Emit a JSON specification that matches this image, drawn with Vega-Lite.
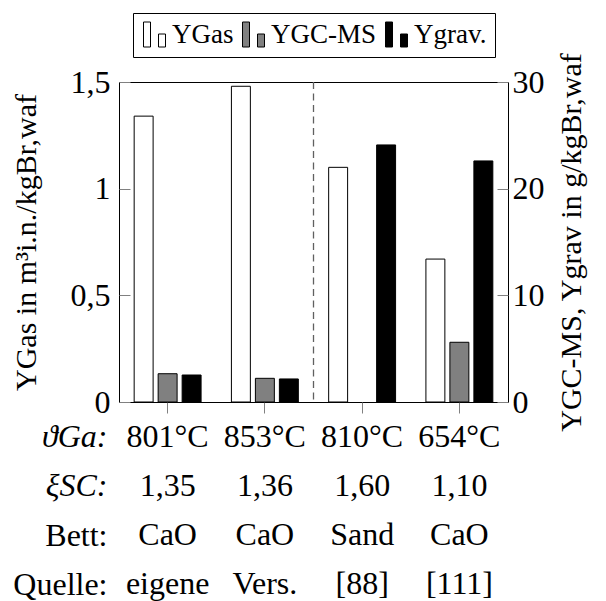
{
  "$schema": "https://vega.github.io/schema/vega-lite/v6.json",
  "padding": {"left": 10, "top": 12, "right": 5, "bottom": 0},
  "background": "white",
  "config": {
    "font": "Liberation Serif, DejaVu Serif, serif",
    "axis": {"labelFont": "Liberation Serif, DejaVu Serif, serif", "titleFont": "Liberation Serif, DejaVu Serif, serif", "labelColor": "black", "titleColor": "black", "titleFontWeight": "normal", "grid": false},
    "legend": {"labelFont": "Liberation Serif, DejaVu Serif, serif"},
    "text": {"font": "Liberation Serif, DejaVu Serif, serif"}
  },
  "spacing": 10,
  "bounds": "flush",
  "vconcat": [
    {
      "width": 389,
      "height": 320,
      "view": {"stroke": "black", "strokeWidth": 1},
      "data": {"values": [
        {"Versuch": "801°C", "Reihe": "YGas", "Wert": 1.34},
        {"Versuch": "801°C", "Reihe": "YGC-MS", "Wert": 2.65},
        {"Versuch": "801°C", "Reihe": "Ygrav.", "Wert": 2.53},
        {"Versuch": "853°C", "Reihe": "YGas", "Wert": 1.48},
        {"Versuch": "853°C", "Reihe": "YGC-MS", "Wert": 2.22},
        {"Versuch": "853°C", "Reihe": "Ygrav.", "Wert": 2.16},
        {"Versuch": "810°C", "Reihe": "YGas", "Wert": 1.10},
        {"Versuch": "810°C", "Reihe": "Ygrav.", "Wert": 24.1},
        {"Versuch": "654°C", "Reihe": "YGas", "Wert": 0.67},
        {"Versuch": "654°C", "Reihe": "YGC-MS", "Wert": 5.6},
        {"Versuch": "654°C", "Reihe": "Ygrav.", "Wert": 22.6}
      ]},
      "encoding": {
        "x": {
          "field": "Versuch", "type": "nominal",
          "sort": ["801°C", "853°C", "810°C", "654°C"],
          "scale": {"paddingInner": 0, "paddingOuter": 0},
          "axis": {"labels": false, "domain": false, "ticks": true, "tickSize": 11, "tickColor": "#808080", "title": null}
        }
      },
      "layer": [
        {
          "transform": [{"filter": "datum.Reihe == 'YGas'"}],
          "mark": {"type": "bar", "stroke": "black", "strokeWidth": 1},
          "encoding": {
            "xOffset": {"field": "Reihe", "type": "nominal", "scale": {"domain": ["YGas", "YGC-MS", "Ygrav."], "paddingInner": 0.21, "paddingOuter": 0.632}},
            "y": {
              "field": "Wert", "type": "quantitative",
              "scale": {"domain": [0, 1.5], "nice": false},
              "axis": {
                "orient": "left", "values": [0, 0.5, 1, 1.5],
                "labelExpr": "replace(toString(datum.value), '.', ',')",
                "labelFontSize": 32, "tickSize": -11, "labelPadding": 20, "tickColor": "#808080", "domain": false,
                "title": "YGas in m³i.n./kgBr,waf", "titleFontSize": 30, "titlePadding": 29
              }
            },
            "fill": {
              "field": "Reihe", "type": "nominal",
              "scale": {"domain": ["YGas", "YGC-MS", "Ygrav."], "range": ["white", "#808080", "black"]},
              "legend": {
                "orient": "none", "legendX": 14, "legendY": -69, "direction": "horizontal", "title": null,
                "strokeColor": "black", "padding": 8,
                "symbolType": "M-0.88,-1H-0.32V1H-0.88Z M0.32,-0.04H0.88V1H0.32Z",
                "symbolSize": 625, "symbolStrokeColor": "black", "symbolStrokeWidth": 1,
                "labelFontSize": 27, "columnPadding": 6, "symbolOffset": 0
              }
            }
          }
        },
        {
          "transform": [{"filter": "datum.Reihe != 'YGas'"}],
          "mark": {"type": "bar", "stroke": "black", "strokeWidth": 1},
          "encoding": {
            "xOffset": {"field": "Reihe", "type": "nominal", "scale": {"domain": ["YGas", "YGC-MS", "Ygrav."], "paddingInner": 0.21, "paddingOuter": 0.632}},
            "y": {
              "field": "Wert", "type": "quantitative",
              "scale": {"domain": [0, 30], "nice": false},
              "axis": {
                "orient": "right", "values": [0, 10, 20, 30],
                "labelFontSize": 32, "tickSize": -11, "labelPadding": 15, "tickColor": "#808080", "domain": false,
                "title": "YGC-MS, Ygrav in g/kgBr,waf", "titleFontSize": 30, "titlePadding": 12,
                "titleAngle": 270, "titleBaseline": "top"
              }
            },
            "fill": {
              "field": "Reihe", "type": "nominal",
              "scale": {"domain": ["YGas", "YGC-MS", "Ygrav."], "range": ["white", "#808080", "black"]}
            }
          }
        },
        {
          "data": {"values": [{"Versuch": "810°C"}]},
          "mark": {"type": "rule", "strokeDash": [7, 4.5], "color": "#606060", "strokeWidth": 1.3},
          "encoding": {
            "x": {"field": "Versuch", "type": "nominal", "bandPosition": 0}
          }
        }
      ],
      "resolve": {"scale": {"y": "independent"}}
    },
    {
      "width": 389,
      "height": 197,
      "view": {"stroke": null},
      "data": {"values": [
        {"Versuch": "801°C", "Zeile": "ϑGa:", "Wert": "801°C"},
        {"Versuch": "853°C", "Zeile": "ϑGa:", "Wert": "853°C"},
        {"Versuch": "810°C", "Zeile": "ϑGa:", "Wert": "810°C"},
        {"Versuch": "654°C", "Zeile": "ϑGa:", "Wert": "654°C"},
        {"Versuch": "801°C", "Zeile": "ξSC:", "Wert": "1,35"},
        {"Versuch": "853°C", "Zeile": "ξSC:", "Wert": "1,36"},
        {"Versuch": "810°C", "Zeile": "ξSC:", "Wert": "1,60"},
        {"Versuch": "654°C", "Zeile": "ξSC:", "Wert": "1,10"},
        {"Versuch": "801°C", "Zeile": "Bett:", "Wert": "CaO"},
        {"Versuch": "853°C", "Zeile": "Bett:", "Wert": "CaO"},
        {"Versuch": "810°C", "Zeile": "Bett:", "Wert": "Sand"},
        {"Versuch": "654°C", "Zeile": "Bett:", "Wert": "CaO"},
        {"Versuch": "801°C", "Zeile": "Quelle:", "Wert": "eigene"},
        {"Versuch": "853°C", "Zeile": "Quelle:", "Wert": "Vers."},
        {"Versuch": "810°C", "Zeile": "Quelle:", "Wert": "[88]"},
        {"Versuch": "654°C", "Zeile": "Quelle:", "Wert": "[111]"}
      ]},
      "mark": {"type": "text", "fontSize": 32, "font": "Liberation Serif, DejaVu Serif, serif", "baseline": "middle", "color": "black"},
      "encoding": {
        "x": {"field": "Versuch", "type": "nominal", "sort": ["801°C", "853°C", "810°C", "654°C"], "scale": {"paddingInner": 0, "paddingOuter": 0}, "axis": null},
        "y": {
          "field": "Zeile", "type": "nominal", "sort": ["ϑGa:", "ξSC:", "Bett:", "Quelle:"],
          "scale": {"paddingInner": 0, "paddingOuter": 0},
          "axis": {
            "title": null, "domain": false, "ticks": false, "labelFontSize": 32, "labelPadding": 12,
            "labelFontStyle": {"condition": {"test": "datum.value == 'ϑGa:' || datum.value == 'ξSC:'", "value": "italic"}, "value": "normal"}
          }
        },
        "text": {"field": "Wert", "type": "nominal"}
      }
    }
  ]
}
